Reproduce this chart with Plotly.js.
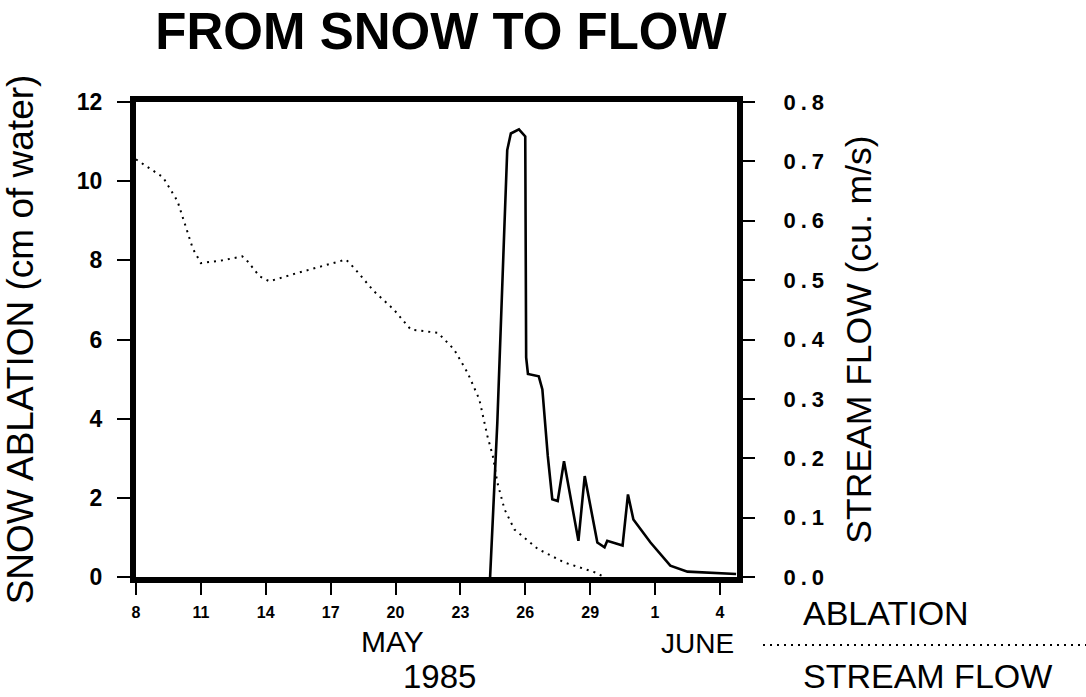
<!DOCTYPE html>
<html><head><meta charset="utf-8">
<script src="https://cdn.plot.ly/plotly-3.0.1.min.js"></script>
<style>
html,body{margin:0;padding:0;background:#fff}
#chart{width:1086px;height:697px}
#chart .y2tick text{letter-spacing:5px}
</style>
</head><body><div id="chart"></div>
<script>
// Snow ablation (cm of water), left axis
const ablationDates = ['1985-05-08 00:00','1985-05-09 06:00','1985-05-09 22:00','1985-05-10 05:00','1985-05-10 15:00','1985-05-11 00:00','1985-05-12 00:00','1985-05-12 22:00','1985-05-13 04:00','1985-05-13 17:00','1985-05-14 04:00','1985-05-15 11:00','1985-05-16 13:00','1985-05-17 17:00','1985-05-18 02:00','1985-05-19 00:00','1985-05-19 22:00','1985-05-20 17:00','1985-05-21 23:00','1985-05-22 17:00','1985-05-23 08:00','1985-05-23 21:00','1985-05-24 06:00','1985-05-24 12:00','1985-05-24 17:00','1985-05-25 01:00','1985-05-25 12:00','1985-05-26 14:00','1985-05-27 19:00','1985-05-29 05:00','1985-05-29 14:00'];
const ablationValues = [10.55,10.1,9.5,9.0,8.3,7.93,8.0,8.1,7.97,7.6,7.47,7.68,7.85,8.02,7.81,7.22,6.76,6.25,6.17,5.75,5.16,4.49,3.56,3.06,2.39,1.71,1.2,0.71,0.37,0.12,0.02];

// Stream flow (cu. m/s), right axis
const flowDates = ['1985-05-24 09:00','1985-05-24 17:00','1985-05-25 01:00','1985-05-25 04:00','1985-05-25 08:00','1985-05-25 17:00','1985-05-26 00:00','1985-05-26 01:00','1985-05-26 03:00','1985-05-26 15:00','1985-05-26 19:00','1985-05-27 01:00','1985-05-27 06:00','1985-05-27 12:00','1985-05-27 19:00','1985-05-28 11:00','1985-05-28 18:00','1985-05-29 08:00','1985-05-29 16:00','1985-05-29 19:00','1985-05-30 12:00','1985-05-30 18:00','1985-05-31 00:00','1985-05-31 19:00','1985-06-01 17:00','1985-06-02 12:00','1985-06-04 18:00'];
const flowValues = [0,0.26,0.596,0.719,0.747,0.754,0.742,0.37,0.342,0.338,0.316,0.204,0.131,0.128,0.195,0.061,0.170,0.058,0.05,0.061,0.053,0.139,0.097,0.058,0.019,0.009,0.005];

const leftTickVals = [0,2,4,6,8,10,12];
const rightTickVals = [0,0.1,0.2,0.3,0.4,0.5,0.6,0.7,0.8];
const rightTickText = ['0.0','0.1','0.2','0.3','0.4','0.5','0.6','0.7','0.8'];

const FONT = 'Liberation Sans, Arial, Helvetica, sans-serif';

const traces = [
  {x: ablationDates, y: ablationValues, type: 'scatter', mode: 'lines', name: 'ABLATION',
   line: {color: '#000', width: 2, dash: '2px,5px'}, yaxis: 'y', showlegend: false},
  {x: flowDates, y: flowValues, type: 'scatter', mode: 'lines', name: 'STREAM FLOW',
   line: {color: '#000', width: 2.6}, yaxis: 'y2', showlegend: false}
];

const W = 1086, H = 697, L = 136, R = 737, T = 102, B = 577;
const px = v => (v - L) / (R - L);
const py = v => (B - v) / (B - T);

const layout = {
  width: W, height: H,
  paper_bgcolor: '#fff', plot_bgcolor: '#fff',
  margin: {l: L, r: W - R, t: T, b: H - B},
  font: {family: FONT, color: '#000'},
  title: {text: '<b>FROM SNOW TO FLOW</b>', font: {family: FONT, size: 51, color: '#000'},
          xref: 'container', yref: 'container', x: 441 / W, y: 1 - 31 / H, xanchor: 'center', yanchor: 'middle'},
  xaxis: {
    type: 'date', range: ['1985-05-08 00:00', '1985-06-04 19:00'],
    tick0: '1985-05-08', dtick: 3 * 86400000, tickformat: '%-d',
    showgrid: false, zeroline: false,
    showline: true, linewidth: 6, linecolor: '#000', mirror: true,
    ticks: 'outside', ticklen: 12, tickwidth: 2, tickcolor: '#000',
    ticklabelstandoff: 4,
    tickfont: {family: FONT, size: 16, color: '#000', weight: 'bold'}
  },
  yaxis: {
    range: [0, 12], tickvals: leftTickVals,
    showgrid: false, zeroline: false,
    showline: true, linewidth: 6, linecolor: '#000',
    ticks: 'outside', ticklen: 13, tickwidth: 2, tickcolor: '#000',
    ticklabelstandoff: 10,
    tickfont: {family: FONT, size: 23, color: '#000', weight: 'bold'},
    title: {text: 'SNOW ABLATION (cm of water)', font: {family: FONT, size: 37, color: '#000'}, standoff: 38}
  },
  yaxis2: {
    range: [0, 0.8], overlaying: 'y', side: 'right',
    tickvals: rightTickVals, ticktext: rightTickText,
    showgrid: false, zeroline: false,
    showline: true, linewidth: 6, linecolor: '#000',
    ticks: 'outside', ticklen: 12, tickwidth: 2, tickcolor: '#000',
    ticklabelstandoff: 24,
    tickfont: {family: FONT, size: 22, color: '#000', weight: 'bold'},
    title: {text: 'STREAM FLOW (cu. m/s)', font: {family: FONT, size: 35.5, color: '#000'}, standoff: 34}
  },
  annotations: [
    {text: 'MAY', xref: 'paper', yref: 'paper', x: px(392), y: py(641), xanchor: 'center', yanchor: 'middle', showarrow: false, font: {family: FONT, size: 30, color: '#000'}},
    {text: 'JUNE', xref: 'paper', yref: 'paper', x: px(697), y: py(643), xanchor: 'center', yanchor: 'middle', showarrow: false, font: {family: FONT, size: 28, color: '#000'}},
    {text: '1985', xref: 'paper', yref: 'paper', x: px(439), y: py(676), xanchor: 'center', yanchor: 'middle', showarrow: false, font: {family: FONT, size: 33, color: '#000'}},
    {text: 'ABLATION', xref: 'paper', yref: 'paper', x: px(801), y: py(613), xanchor: 'left', yanchor: 'middle', showarrow: false, font: {family: FONT, size: 34, color: '#000'}},
    {text: 'STREAM FLOW', xref: 'paper', yref: 'paper', x: px(801), y: py(676), xanchor: 'left', yanchor: 'middle', showarrow: false, font: {family: FONT, size: 34, color: '#000'}}
  ],
  shapes: [
    {type: 'line', xref: 'paper', yref: 'paper', x0: px(763), x1: px(1086), y0: py(645), y1: py(645),
     line: {color: '#000', width: 2, dash: '2px,5px'}}
  ]
};

Plotly.newPlot('chart', traces, layout, {displayModeBar: false, staticPlot: true});
</script>
</body></html>
